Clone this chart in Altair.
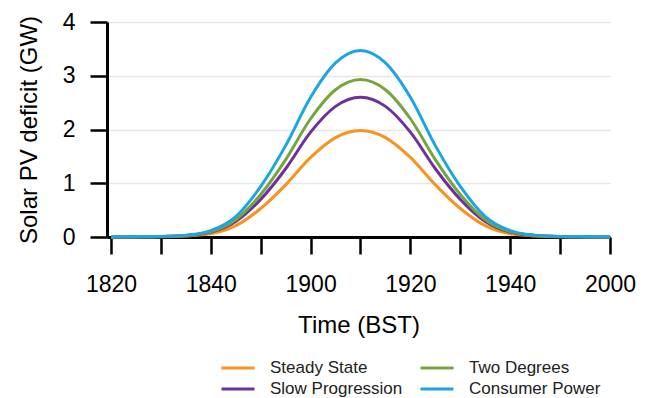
import altair as alt
import pandas as pd

# Time of day (BST, HHMM) at 5-minute steps
times_hhmm = [1820, 1825, 1830, 1835, 1840, 1845, 1850, 1855, 1900, 1905, 1910,
              1915, 1920, 1925, 1930, 1935, 1940, 1945, 1950, 1955, 2000]

steady_state = [0, 0.002, 0.006, 0.02, 0.06, 0.21, 0.53, 0.97, 1.48, 1.85, 1.98,
                1.85, 1.48, 0.97, 0.53, 0.21, 0.06, 0.02, 0.006, 0.002, 0]
two_degrees = [0, 0.003, 0.009, 0.03, 0.10, 0.32, 0.79, 1.44, 2.20, 2.74, 2.93,
               2.74, 2.20, 1.44, 0.79, 0.32, 0.10, 0.03, 0.009, 0.003, 0]
slow_progression = [0, 0.003, 0.008, 0.026, 0.09, 0.29, 0.70, 1.27, 1.95, 2.43, 2.60,
                    2.43, 1.95, 1.27, 0.70, 0.29, 0.09, 0.026, 0.008, 0.003, 0]
consumer_power = [0, 0.003, 0.01, 0.035, 0.12, 0.38, 0.94, 1.70, 2.60, 3.24, 3.47,
                  3.24, 2.60, 1.70, 0.94, 0.38, 0.12, 0.035, 0.01, 0.003, 0]

# legend order (filled column by column): Steady State / Slow Progression, then Two Degrees / Consumer Power
series_names = ["Steady State", "Slow Progression", "Two Degrees", "Consumer Power"]
series_colors = ["#F7931E", "#6F2F9F", "#76A53B", "#1BA6E2"]
series_values = [steady_state, slow_progression, two_degrees, consumer_power]

x_tick_labels = ["1820", "", "1840", "", "1900", "", "1920", "", "1940", "", "2000"]
y_ticks = [0, 1, 2, 3, 4]


def to_minutes(hhmm):
    return (hhmm // 100) * 60 + hhmm % 100 - (18 * 60 + 20)


rows = []
for name, vals in zip(series_names, series_values):
    for t, v in zip(times_hhmm, vals):
        rows.append({"minute": to_minutes(t), "value": v, "scenario": name})
df = pd.DataFrame(rows)

x_tick_values = [i * 10 for i in range(len(x_tick_labels))]
label_expr = "[" + ",".join("'" + s + "'" for s in x_tick_labels) + "][round(datum.value/10)]"

FONT = "Liberation Sans"

chart = alt.Chart(df).mark_line(strokeWidth=3, interpolate="monotone").encode(
    x=alt.X(
        "minute:Q",
        scale=alt.Scale(domain=[-0.8, 100], nice=False, zero=False),
        axis=alt.Axis(
            title="Time (BST)",
            values=x_tick_values,
            labelExpr=label_expr,
            grid=False,
            tickSize=17,
            tickWidth=2.5,
            tickColor="black",
            domainColor="black",
            domainWidth=3,
            labelFont=FONT,
            labelFontSize=23,
            labelColor="black",
            labelPadding=19,
            labelFlush=False,
            labelOverlap=False,
            titleFont=FONT,
            titleFontSize=24,
            titleFontWeight="normal",
            titleColor="black",
            titlePadding=17,
        ),
    ),
    y=alt.Y(
        "value:Q",
        scale=alt.Scale(domain=[0, 4], nice=False),
        axis=alt.Axis(
            title="Solar PV deficit (GW)",
            values=y_ticks,
            format="d",
            grid=True,
            gridColor="#e6e6e6",
            gridWidth=1.5,
            tickSize=17,
            tickWidth=2.5,
            tickColor="black",
            domainColor="black",
            domainWidth=3,
            labelFont=FONT,
            labelFontSize=23,
            labelColor="black",
            labelPadding=15,
            titleFont=FONT,
            titleFontSize=24,
            titleFontWeight="normal",
            titleColor="black",
            titlePadding=21,
        ),
    ),
    color=alt.Color(
        "scenario:N",
        scale=alt.Scale(domain=series_names, range=series_colors),
        sort=series_names,
        legend=alt.Legend(
            title=None,
            orient="none",
            legendX=113,
            legendY=336,
            columns=2,
            symbolType="stroke",
            symbolSize=1089,
            symbolStrokeWidth=3,
            clipHeight=20,
            rowPadding=1,
            columnPadding=16,
            labelOffset=14,
            labelFont=FONT,
            labelFontSize=17,
            labelColor="#222222",
            padding=0,
        ),
    ),
    order=alt.Order("scenario:N"),
).properties(
    width=503,
    height=215,
    autosize=alt.AutoSizeParams(type="none"),
    padding={"left": 107, "top": 22, "right": 41, "bottom": 161},
).configure_view(stroke=None)

chart.save("out.html", embed_options={"renderer": "svg", "actions": False})
